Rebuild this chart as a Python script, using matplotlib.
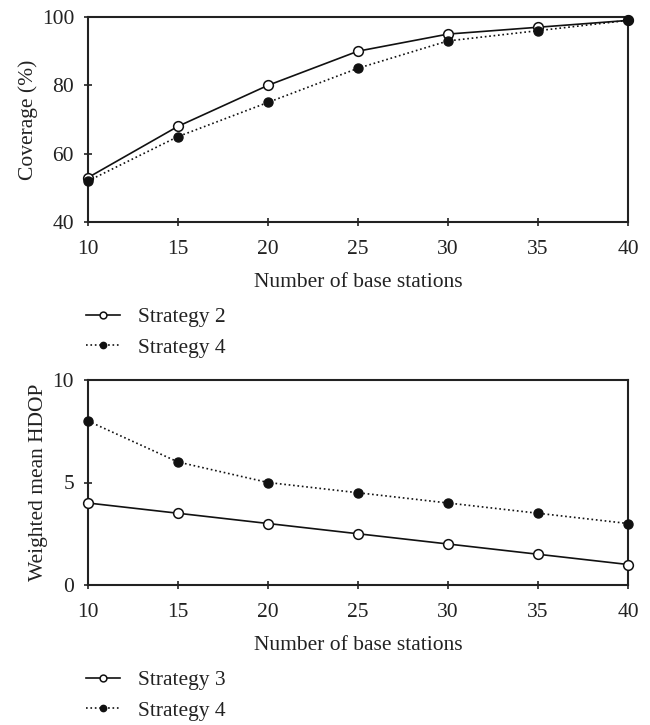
import numpy as np
import matplotlib
matplotlib.use('Agg')
import matplotlib.pyplot as plt

# Data
n_stations = [10, 15, 20, 25, 30, 35, 40]
coverage_s2 = [53, 68, 80, 90, 95, 97, 99]
coverage_s4 = [52, 65, 75, 85, 93, 96, 99]
hdop_s3 = [4.0, 3.5, 3.0, 2.5, 2.0, 1.5, 1.0]
hdop_s4 = [8.0, 6.0, 5.0, 4.5, 4.0, 3.5, 3.0]

plt.rcParams['font.family'] = ['Liberation Serif', 'DejaVu Serif']
FS = 15.5

fig = plt.figure(figsize=(6.5, 7.25), dpi=100)
ax1 = fig.add_axes([88/650, 1 - 222/725, 540/650, 205/725])
ax2 = fig.add_axes([88/650, 1 - 585/725, 540/650, 205/725])


def style_axes(ax, ylim, yticks, ylabel):
    ax.set_xlim(10, 40)
    ax.set_ylim(*ylim)
    ax.set_xticks(n_stations)
    ax.set_yticks(yticks)
    ax.tick_params(direction='inout', length=6, width=1.2, labelsize=FS,
                   colors='#222')
    ax.tick_params(axis='x', pad=10)
    ax.tick_params(axis='y', pad=7)
    for s in ax.spines.values():
        s.set_linewidth(1.5)
        s.set_color('#222')
    ax.set_xlabel('Number of base stations', fontsize=FS, labelpad=10, color='#222')
    ax.set_ylabel(ylabel, fontsize=FS, labelpad=3, color='#222')


def add_legend(ax, y_px):
    leg = fig.legend(*ax.get_legend_handles_labels(), loc='upper left',
                     bbox_to_anchor=(86/650, 1 - y_px/725), frameon=False,
                     fontsize=FS, handlelength=1.6, handletextpad=0.8,
                     labelspacing=0.5, borderpad=0, borderaxespad=0,
                     markerscale=0.7)
    for t in leg.get_texts():
        t.set_color('#222')


ax1.plot(n_stations, coverage_s2, '-o', color='#111', lw=1.2, ms=7,
         mfc='white', mew=1.1, clip_on=False, zorder=3, label='Strategy 2')
ax1.plot(n_stations, coverage_s4, ':o', color='#111', lw=1.2, ms=6.5,
         mfc='#111', clip_on=False, zorder=3, label='Strategy 4')
style_axes(ax1, (40, 100), [40, 60, 80, 100], 'Coverage (%)')
add_legend(ax1, 307)

ax2.plot(n_stations, hdop_s3, '-o', color='#111', lw=1.2, ms=7,
         mfc='white', mew=1.1, clip_on=False, zorder=3, label='Strategy 3')
ax2.plot(n_stations, hdop_s4, ':o', color='#111', lw=1.2, ms=6.5,
         mfc='#111', clip_on=False, zorder=3, label='Strategy 4')
style_axes(ax2, (0, 10), [0, 5, 10], 'Weighted mean HDOP')
add_legend(ax2, 670)

fig.savefig('out.png', dpi=100)
